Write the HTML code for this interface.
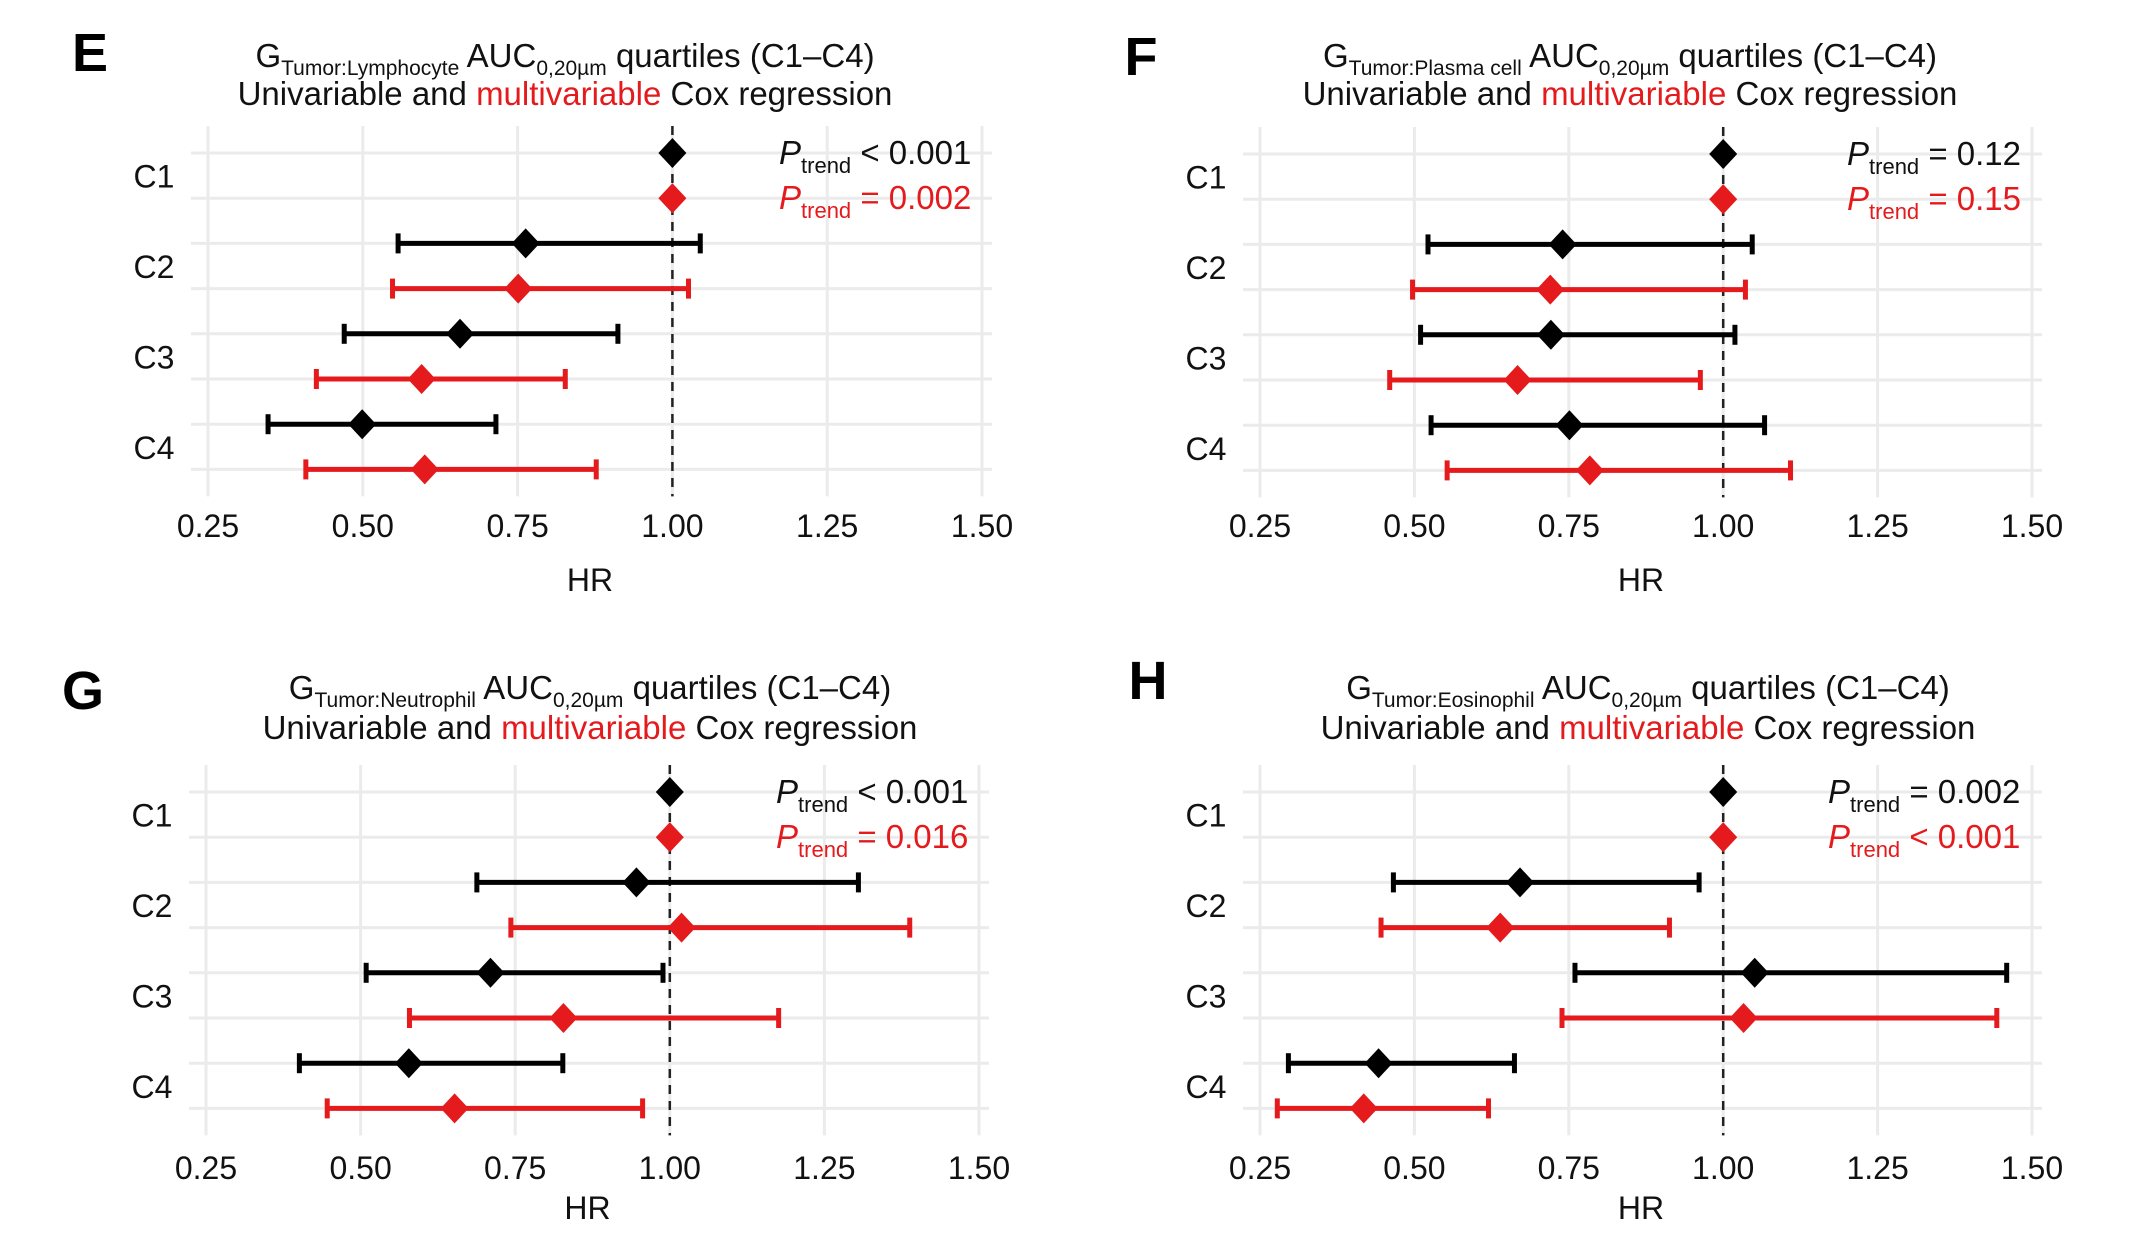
<!DOCTYPE html>
<html><head><meta charset="utf-8">
<style>
html,body{margin:0;padding:0;background:#fff;}
svg{display:block;font-family:"Liberation Sans",Arial,sans-serif;}
</style></head>
<body>
<svg id="fig" width="2138" height="1244" viewBox="0 0 2138 1244" xmlns="http://www.w3.org/2000/svg"></svg>
<script>
// ---- data ----
const rowLabels = ["C1","C2","C3","C4"];
const tickLabels = ["0.25","0.50","0.75","1.00","1.25","1.50"];
const tickValues = [0.25,0.5,0.75,1.0,1.25,1.5];
const panelLetters = ["E","F","G","H"];
const cellTypes = ["Tumor:Lymphocyte","Tumor:Plasma cell","Tumor:Neutrophil","Tumor:Eosinophil"];
const pUni = ["< 0.001","= 0.12","< 0.001","= 0.002"];
const pMulti = ["= 0.002","= 0.15","= 0.016","< 0.001"];
const E_uniHR = [1.0,0.763,0.657,0.499];
const E_uniLo = [1.0,0.557,0.470,0.347];
const E_uniHi = [1.0,1.045,0.912,0.715];
const E_mulHR = [1.0,0.751,0.595,0.600];
const E_mulLo = [1.0,0.548,0.425,0.408];
const E_mulHi = [1.0,1.026,0.827,0.877];
const F_uniHR = [1.0,0.740,0.721,0.751];
const F_uniLo = [1.0,0.522,0.510,0.527];
const F_uniHi = [1.0,1.047,1.019,1.067];
const F_mulHR = [1.0,0.720,0.667,0.784];
const F_mulLo = [1.0,0.497,0.460,0.553];
const F_mulHi = [1.0,1.036,0.963,1.109];
const G_uniHR = [1.0,0.946,0.710,0.578];
const G_uniLo = [1.0,0.688,0.509,0.401];
const G_uniHi = [1.0,1.305,0.989,0.827];
const G_mulHR = [1.0,1.019,0.828,0.652];
const G_mulLo = [1.0,0.743,0.579,0.446];
const G_mulHi = [1.0,1.388,1.176,0.956];
const H_uniHR = [1.0,0.671,1.051,0.442];
const H_uniLo = [1.0,0.466,0.760,0.296];
const H_uniHi = [1.0,0.961,1.459,0.662];
const H_mulHR = [1.0,0.639,1.033,0.418];
const H_mulLo = [1.0,0.446,0.739,0.278];
const H_mulHi = [1.0,0.913,1.443,0.620];

const series = [
 [E_uniHR,E_uniLo,E_uniHi,E_mulHR,E_mulLo,E_mulHi],
 [F_uniHR,F_uniLo,F_uniHi,F_mulHR,F_mulLo,F_mulHi],
 [G_uniHR,G_uniLo,G_uniHi,G_mulHR,G_mulLo,G_mulHi],
 [H_uniHR,H_uniLo,H_uniHi,H_mulHR,H_mulLo,H_mulHi]
];
const layout = [
 {x0:208,x1:982,y0:153,tick:373,hr:427,t1:-97,t2:-59,lx:90,ly:52,tc:565,px:779},
 {x0:1260,x1:2032,y0:154,tick:372,hr:426,t1:-98,t2:-60,lx:1141,ly:56,tc:1630,px:1847},
 {x0:206,x1:979,y0:792,tick:376,hr:416,t1:-104,t2:-64,lx:83,ly:690,tc:590,px:776},
 {x0:1260,x1:2032,y0:792,tick:376,hr:416,t1:-104,t2:-64,lx:1148,ly:680,tc:1648,px:1828}
];
const RED="#e41a1c", STEP=45.2;
const NS="http://www.w3.org/2000/svg";
const svg=document.getElementById('fig');
function mk(tag,attrs,parent){const e=document.createElementNS(NS,tag);for(const k in attrs)e.setAttribute(k,attrs[k]);(parent||svg).appendChild(e);return e;}

layout.forEach((L,p)=>{
  const g=mk('g',{});
  
  
  const xs=v=>L.x0+(v-0.25)/1.25*(L.x1-L.x0);
  const ys=i=>L.y0+i*STEP;
  const yTop=L.y0-27, yBot=ys(7)+27;
  tickValues.forEach((v,i)=>{
    const l=mk('line',{x1:xs(v),x2:xs(v),y1:yTop,y2:yBot,stroke:'#ebebeb','stroke-width':3},g);
    
    
    const t=mk('text',{x:xs(v),y:L.y0+L.tick+11,'text-anchor':'middle','font-size':32,fill:'#111'},g);
    t.textContent=tickLabels[i];
    
    
  });
  for(let i=0;i<8;i++){
    const l=mk('line',{x1:L.x0-17,x2:L.x1+10,y1:ys(i),y2:ys(i),stroke:'#ebebeb','stroke-width':3},g);
    
    
  }
  rowLabels.forEach((r,i)=>{
    const t=mk('text',{x:L.x0-54,y:ys(2*i)+STEP/2+12,'text-anchor':'middle','font-size':32,fill:'#111'},g);
    t.textContent=r;
    
    
  });
  const ref=mk('line',{x1:xs(1),x2:xs(1),y1:yTop,y2:yBot,stroke:'#222','stroke-width':2.5,'stroke-dasharray':'9,7'},g);
  
  
  const s=series[p];
  for(let i=0;i<4;i++){
    [[0,'#000'],[3,RED]].forEach(([o,c],k)=>{
      const y=ys(2*i+k), hr=s[o][i], lo=s[o+1][i], hi=s[o+2][i];
      if(i>0){
        const bar=mk('line',{x1:xs(lo),x2:xs(hi),y1:y,y2:y,stroke:c,'stroke-width':5},g);
        
        
        [lo,hi].forEach(v=>{
          const cap=mk('line',{x1:xs(v),x2:xs(v),y1:y-10,y2:y+10,stroke:c,'stroke-width':5},g);
          
          
        });
      }
      const x=xs(hr);
      const d=mk('polygon',{points:`${x},${y-15} ${x+14},${y} ${x},${y+15} ${x-14},${y}`,fill:c},g);
      
      
    });
  }
  const hrT=mk('text',{x:(L.x0+L.x1)/2-5,y:L.y0+L.hr+11,'text-anchor':'middle','font-size':32,fill:'#111'},g);
  hrT.textContent='HR';
  
  
  const pl=mk('text',{x:L.lx,y:L.ly+19,'text-anchor':'middle','font-size':54,'font-weight':'bold',fill:'#000'},g);
  pl.textContent=panelLetters[p];
  
  
  const t1=mk('text',{x:L.tc,y:L.y0+L.t1+11,'text-anchor':'middle','font-size':33,fill:'#111'},g);
  t1.innerHTML=`G<tspan font-size="21" dy="8">${cellTypes[p]}</tspan><tspan dy="-8"> AUC</tspan><tspan font-size="21" dy="8">0,20µm</tspan><tspan dy="-8"> quartiles (C1–C4)</tspan>`;
  
  
  const t2=mk('text',{x:L.tc,y:L.y0+L.t2+11,'text-anchor':'middle','font-size':33,fill:'#111'},g);
  t2.innerHTML=`Univariable and <tspan fill="${RED}">multivariable</tspan> Cox regression`;
  
  
  [[pUni[p],'#111',0],[pMulti[p],RED,1]].forEach(([txt,c,k])=>{
    const t=mk('text',{x:L.px,y:L.y0+k*STEP+11,'font-size':33,fill:c},g);
    t.innerHTML=`<tspan font-style="italic">P</tspan><tspan font-size="22" dy="9">trend</tspan><tspan dy="-9"> ${txt}</tspan>`;
    
    
  });
});
</script>
</body></html>
